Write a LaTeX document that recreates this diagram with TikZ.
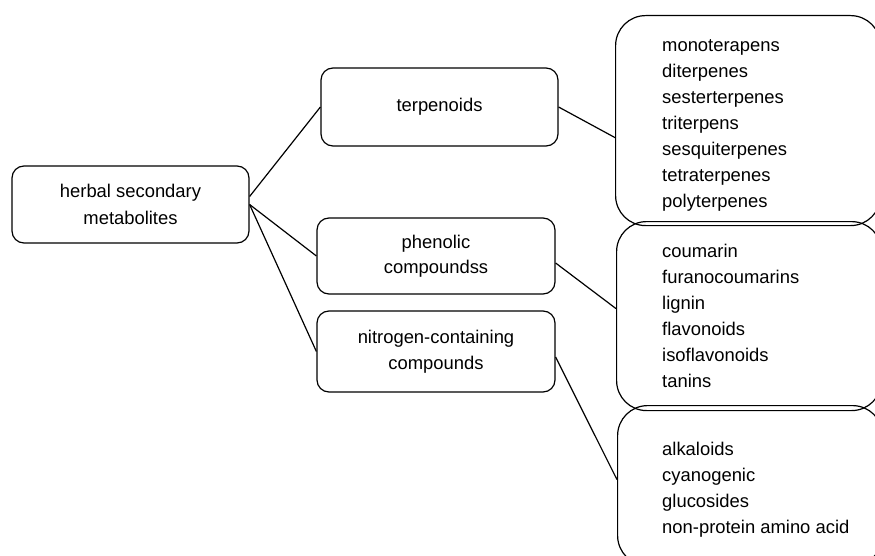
\documentclass[tikz,border=0pt]{standalone}
\usepackage{fontspec}
\setmainfont{Liberation Sans}
\begin{document}
\begin{tikzpicture}[x=1pt,y=-1pt,
  smallbox/.style={draw,line width=1.2pt,rounded corners=12pt,align=center,
    font=\fontsize{18.4}{25.5}\selectfont,inner sep=0pt},
  bigbox/.style={draw,line width=1.2pt,rounded corners=30pt,inner sep=0pt,anchor=north west},
  listtext/.style={align=left,anchor=west,inner sep=0pt,
    font=\fontsize{18.4}{26}\selectfont},
  link/.style={line width=1.2pt}]
\useasboundingbox (0,0) rectangle (875,556);
\clip (0,0) rectangle (875,556);
% level 0
\node[smallbox,minimum width=237pt,minimum height=77pt,
  font=\fontsize{18.4}{27.5}\selectfont] (root) at (130.5,204.5) {herbal secondary\\metabolites};
% level 1
\node[smallbox,minimum width=237pt,minimum height=78pt] (terp) at (439.5,107) {terpenoids};
\node[smallbox,minimum width=238pt,minimum height=76pt] (phen) at (436,256) {phenolic\\compoundss};
\node[smallbox,minimum width=238pt,minimum height=81pt] (nitr) at (436,351.5) {nitrogen-containing\\compounds};
% level 2 boxes
\node[bigbox,minimum width=265pt,minimum height=210pt] (b1) at (615,15) {};
\node[bigbox,minimum width=265pt,minimum height=189pt] (b2) at (616,221) {};
\node[bigbox,minimum width=265pt,minimum height=160pt] (b3) at (617,405) {};
\node[listtext] (t1) at (662,125.5) {monoterapens\\diterpenes\\sesterterpenes\\triterpens\\sesquiterpenes\\tetraterpenes\\polyterpenes};
\node[listtext] (t2) at (662,316) {coumarin\\furanocoumarins\\lignin\\flavonoids\\isoflavonoids\\tanins};
\node[listtext] (t3) at (662,490) {alkaloids\\cyanogenic\\glucosides\\non-protein amino acid};
% connectors
\draw[link] ([yshift=8pt]root.east) -- (terp.west);
\draw[link] (root.east) -- (phen.west);
\draw[link] (root.east) -- (nitr.west);
\draw[link] (terp.east) -- ([yshift=-17pt]b1.west);
\draw[link] ([yshift=-7pt]phen.east) -- ([yshift=7.5pt]b2.west);
\draw[link] ([yshift=-5.5pt]nitr.east) -- ([yshift=6pt]b3.west);
\end{tikzpicture}
\end{document}
